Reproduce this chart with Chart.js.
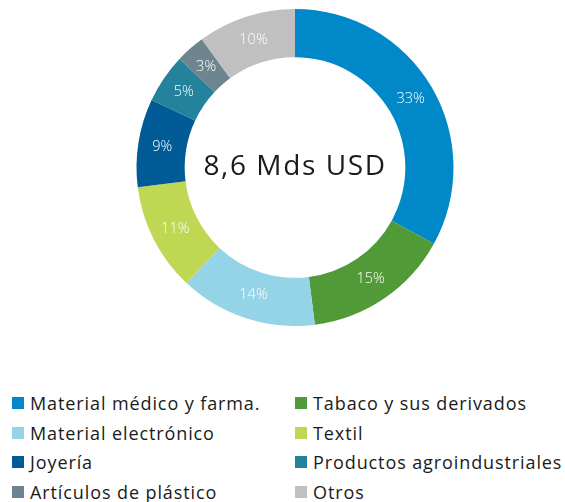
<!DOCTYPE html>
<html><head><meta charset="utf-8">
<script src="https://cdn.jsdelivr.net/npm/chart.js@4"></script>
<style>
html,body{margin:0;padding:0;background:#fff;}
#wrap{position:absolute;left:0;top:0;width:565px;height:335px;}
#legend{position:absolute;left:0;top:393px;width:565px;font-family:"Open Sans",sans-serif;font-size:18px;letter-spacing:0.9px;color:#1a1a1a;}
.item{position:absolute;height:20px;line-height:20px;white-space:nowrap;}
.sw{position:absolute;left:0;top:4px;width:12px;height:12px;}
.tx{position:absolute;left:18px;top:0;}
</style></head>
<body>
<div id="wrap"><canvas id="c"></canvas></div>
<div id="legend"></div>
<script>
const categories = ["Material médico y farma.","Tabaco y sus derivados","Material electrónico","Textil","Joyería","Productos agroindustriales","Artículos de plástico","Otros"];
const values = [33,15,14,11,9,5,3,10];
const colors = ["#0088c8","#519a38","#95d4e7","#bfd753","#005b97","#24829c","#6e8590","#c0c0c0"];
const centerText = "8,6 Mds USD";

const labelPlugin = {
  id:'lbl',
  afterDatasetsDraw(chart){
    const ctx = chart.ctx;
    const meta = chart.getDatasetMeta(0);
    ctx.save();
    ctx.fillStyle = '#fff';
    ctx.font = '300 14.5px "Open Sans", sans-serif';
    ctx.textAlign='center'; ctx.textBaseline='middle';
    meta.data.forEach((arc,i)=>{
      const p = arc.tooltipPosition();
      ctx.fillText(values[i]+'%', p.x, p.y);
    });
    const a = meta.data[0];
    ctx.fillStyle='#1a1a1a';
    ctx.font = '28px "Open Sans", sans-serif';
    ctx.letterSpacing = '1.6px';
    ctx.fillText(centerText, a.x, a.y);
    ctx.restore();
  }
};

new Chart(document.getElementById('c'), {
  type:'doughnut',
  data:{labels:categories, datasets:[{data:values, backgroundColor:colors, borderWidth:0}]},
  options:{
    responsive:true, maintainAspectRatio:false, animation:false,
    cutout:'69.6%',
    layout:{padding:{left:25,right:0,top:9,bottom:9}},
    plugins:{legend:{display:false}, tooltip:{enabled:false}}
  },
  plugins:[labelPlugin]
});

// legend: two columns, filled row by row
const leg = document.getElementById('legend');
const colX = [12, 295];
const rowY = [0, 29.5, 59, 88.5];
categories.forEach((c,i)=>{
  const d = document.createElement('div');
  d.className='item';
  d.style.left = colX[i%2]+'px';
  d.style.top = rowY[Math.floor(i/2)]+'px';
  d.innerHTML = '<span class="sw" style="background:'+colors[i]+'"></span><span class="tx">'+c+'</span>';
  leg.appendChild(d);
});
</script>
</body></html>
